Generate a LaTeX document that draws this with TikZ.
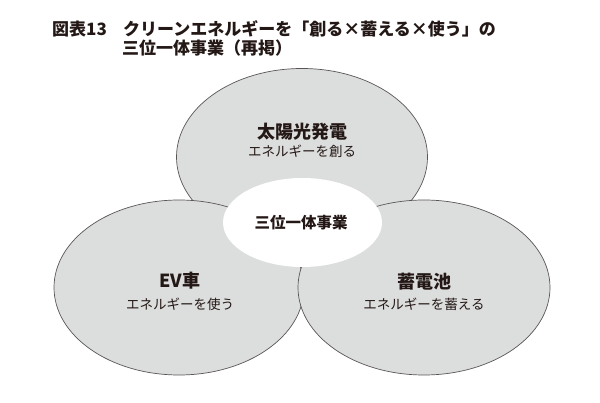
\documentclass[tikz,border=0pt]{standalone}
\usepackage{fontspec}
\newfontfamily\jp{Noto Sans CJK JP}
\definecolor{circfill}{HTML}{DCDDDD}
\definecolor{circline}{HTML}{5A5656}
\definecolor{txt}{HTML}{231815}
\tikzset{
  circ/.style={fill=circfill, draw=circline, line width=0.7pt},
  hub/.style={fill=white, draw=none},
  titletxt/.style={anchor=west, inner sep=0pt, text=txt, font=\jp\bfseries\fontsize{17}{19}\selectfont},
  mainlbl/.style={inner sep=0pt, text=txt, font=\jp\bfseries\fontsize{18}{20}\selectfont},
  sublbl/.style={inner sep=0pt, text=txt, font=\jp\fontsize{13.5}{15}\selectfont},
  hublbl/.style={inner sep=0pt, text=txt, font=\jp\bfseries\fontsize{15.5}{17}\selectfont}
}
\begin{document}
\begin{tikzpicture}[x=1pt, y=-1pt]
\useasboundingbox (0,0) rectangle (600,403);
\fill[white] (0,0) rectangle (600,403);
% ellipses
\draw[circ] (302,157) ellipse [x radius=125.5, y radius=88.5];
\draw[circ] (179,287.5) ellipse [x radius=125, y radius=87.5];
\draw[circ] (424,287.5) ellipse [x radius=126, y radius=87.5];
\fill[hub] (302.5,222.5) ellipse [x radius=79.5, y radius=44.5];
% title
\node[titletxt] (t1) at (52,29) {図表13};
\node[titletxt] (t2) at (123,29) {クリーンエネルギーを「創る×蓄える×使う」の};
\node[titletxt] (t3) at (122,48.5) {三位一体事業（再掲）};
% labels
\node[mainlbl] (solar) at (302,132) {太陽光発電};
\node[sublbl] (solars) at (302,151) {エネルギーを創る};
\node[mainlbl] (ev) at (180,281) {EV車};
\node[sublbl] (evs) at (180,304.5) {エネルギーを使う};
\node[mainlbl] (bat) at (424,281.5) {蓄電池};
\node[sublbl] (bats) at (424,304) {エネルギーを蓄える};
\node[hublbl] (hub) at (301,223) {三位一体事業};
\end{tikzpicture}
\end{document}
